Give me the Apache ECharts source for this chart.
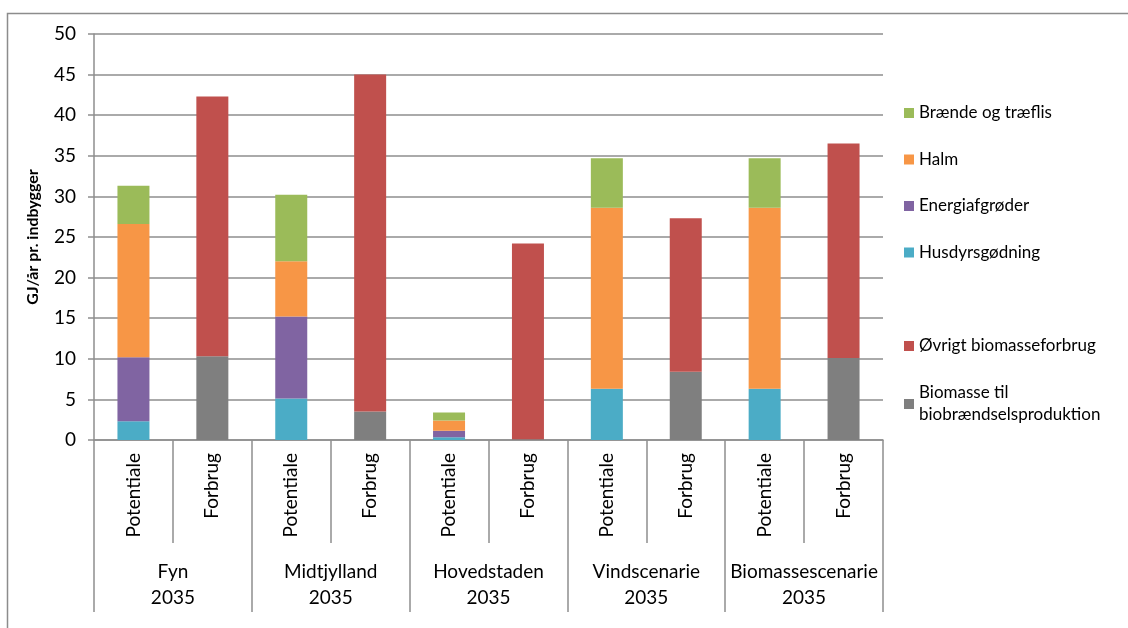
<!DOCTYPE html>
<html>
<head>
<meta charset="utf-8">
<script src="https://cdn.jsdelivr.net/npm/echarts@6/dist/echarts.min.js"></script>
<style>html,body{margin:0;padding:0;background:#fff}#c{width:1128px;height:628px}</style>
</head>
<body>
<div id="c"></div>
<script>
var innerLabels = ['Potentiale','Forbrug','Potentiale','Forbrug','Potentiale','Forbrug','Potentiale','Forbrug','Potentiale','Forbrug'];
var groupLabels = ['Fyn\n2035','Midtjylland\n2035','Hovedstaden\n2035','Vindscenarie\n2035','Biomassescenarie\n2035'];
var yTicks = [0,5,10,15,20,25,30,35,40,45,50];

var husdyr   = [2.3, null, 5.1, null, 0.35, null, 6.3, null, 6.3, null];
var energi   = [7.9, null, 10.1, null, 0.8, null, 0, null, 0, null];
var halm     = [16.4, null, 6.8, null, 1.25, null, 22.3, null, 22.3, null];
var braende  = [4.7, null, 8.2, null, 1.0, null, 6.1, null, 6.1, null];
var biobrand = [null, 10.3, null, 3.5, null, 0.1, null, 8.4, null, 10.1];
var ovrigt   = [null, 32.0, null, 41.5, null, 24.1, null, 18.9, null, 26.4];

var names = {
  braende: 'Brænde og træflis',
  halm: 'Halm',
  energi: 'Energiafgrøder',
  husdyr: 'Husdyrsgødning',
  ovrigt: 'Øvrigt biomasseforbrug',
  bio: 'Biomasse til\nbiobrændselsproduktion'
};
var colors = {
  braende: '#9BBB59', halm: '#F79646', energi: '#8064A2', husdyr: '#4BACC6', ovrigt: '#C0504D', bio: '#7F7F7F'
};

var FONT = 'Lato';
var gridColor = '#8E8E8E';

function bar(key, data) {
  return {
    name: names[key], type: 'bar', stack: 'a', data: data, barWidth: 32,
    itemStyle: { color: colors[key] }, emphasis: { disabled: true }
  };
}

var chart = echarts.init(document.getElementById('c'));
var legendText = { fontFamily: FONT, fontSize: 17, color: '#000', lineHeight: 20 };
chart.setOption({
  animation: false,
  textStyle: { fontFamily: FONT },
  graphic: [{
    type: 'rect', shape: { x: 7.5, y: 13.5, width: 1200, height: 700 },
    style: { fill: 'none', stroke: '#8c8c8c', lineWidth: 1.5 }, silent: true
  }],
  grid: { left: 94, right: 245, top: 34, bottom: 188, containLabel: false },
  legend: [{
    orient: 'vertical', left: 904, top: 103, padding: 0, itemWidth: 10, itemHeight: 10, itemGap: 26.5,
    icon: 'rect', selectedMode: false, textStyle: legendText,
    data: [names.braende, names.halm, names.energi, names.husdyr]
  }, {
    orient: 'vertical', left: 904, top: 336, padding: 0, itemWidth: 10, itemHeight: 10,
    icon: 'rect', selectedMode: false, textStyle: legendText,
    data: [names.ovrigt]
  }, {
    orient: 'vertical', left: 904, top: 371, padding: 0, itemWidth: 10, itemHeight: 10,
    icon: 'rect', selectedMode: false,
    textStyle: { fontFamily: FONT, fontSize: 17, color: '#000', lineHeight: 22, padding: [22, 0, 0, 0] },
    data: [names.bio]
  }],
  xAxis: [{
    type: 'category', data: innerLabels, position: 'bottom',
    axisLine: { show: true, lineStyle: { color: gridColor, width: 1.5 } },
    axisTick: { show: true, interval: 0, length: 103, lineStyle: { color: gridColor, width: 1.5 } },
    axisLabel: { rotate: 90, interval: 0, margin: 13, fontSize: 19, color: '#000', fontFamily: FONT }
  }, {
    type: 'category', data: groupLabels, position: 'bottom', offset: 0,
    axisLine: { show: false },
    axisTick: { show: true, interval: 0, length: 172, lineStyle: { color: gridColor, width: 1.5 } },
    axisLabel: { interval: 0, margin: 119, fontSize: 19, lineHeight: 26, color: '#000', fontFamily: FONT }
  }],
  yAxis: {
    type: 'value', min: yTicks[0], max: yTicks[yTicks.length - 1], interval: yTicks[1] - yTicks[0],
    name: 'GJ/år pr. indbygger', nameLocation: 'middle', nameGap: 53,
    nameTextStyle: { fontFamily: FONT, fontSize: 16, fontWeight: 'bold', color: '#000' },
    axisLine: { show: true, lineStyle: { color: gridColor, width: 1.5 } },
    axisTick: { show: true, length: 6, lineStyle: { color: gridColor, width: 1.5 } },
    axisLabel: { fontSize: 19, color: '#000', margin: 18, fontFamily: FONT },
    splitLine: { show: true, lineStyle: { color: gridColor, width: 1.5 } }
  },
  series: [
    bar('husdyr', husdyr),
    bar('energi', energi),
    bar('halm', halm),
    bar('braende', braende),
    bar('bio', biobrand),
    bar('ovrigt', ovrigt)
  ]
});
</script>
</body>
</html>
